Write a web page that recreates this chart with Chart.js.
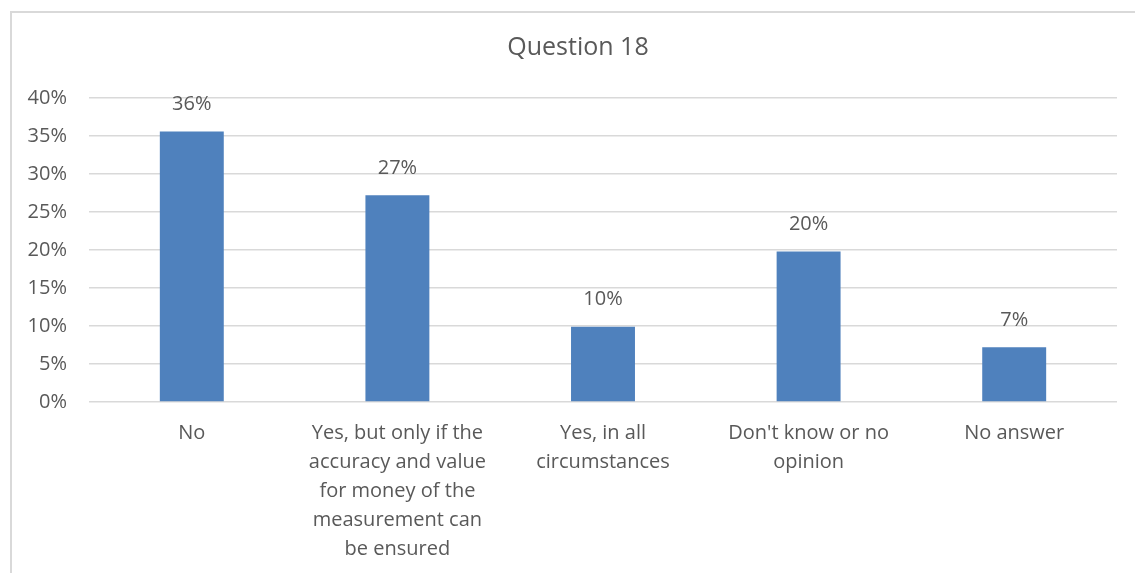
<!DOCTYPE html>
<html>
<head>
<meta charset="utf-8">
<script src="https://cdn.jsdelivr.net/npm/chart.js@4"></script>
<style>
html,body{margin:0;padding:0;background:#fff;}
#wrap{width:1135px;height:573px;position:relative;}
</style>
</head>
<body>
<div id="wrap"><canvas id="c" width="1135" height="573"></canvas></div>
<script>
const categories = [
  ["No"],
  ["Yes, but only if the", "accuracy and value", "for money of the", "measurement can", "be ensured"],
  ["Yes, in all", "circumstances"],
  ["Don't know or no", "opinion"],
  ["No answer"]
];
const values = [0.356, 0.272, 0.099, 0.198, 0.072];
const valueLabels = ["36%", "27%", "10%", "20%", "7%"];
const chartTitle = "Question 18";

const textColor = "#595959";
const fontFamily = "'Open Sans', 'DejaVu Sans', sans-serif";

const frame = {
  id: "frame",
  beforeDraw(chart) {
    const ctx = chart.ctx;
    ctx.save();
    ctx.fillStyle = "#fff";
    ctx.fillRect(0, 0, chart.width, chart.height);
    ctx.strokeStyle = "#d9d9d9";
    ctx.lineWidth = 2;
    ctx.strokeRect(11, 12, 1300, 1000);
    ctx.fillStyle = textColor;
    ctx.font = "25px " + fontFamily;
    ctx.textAlign = "center";
    ctx.textBaseline = "middle";
    ctx.fillText(chartTitle, 578, 48);
    ctx.restore();
  }
};

const barLabels = {
  id: "barLabels",
  afterDatasetsDraw(chart) {
    const ctx = chart.ctx;
    const meta = chart.getDatasetMeta(0);
    ctx.save();
    ctx.fillStyle = textColor;
    ctx.font = "20px " + fontFamily;
    ctx.textAlign = "center";
    ctx.textBaseline = "middle";
    meta.data.forEach((bar, i) => {
      ctx.fillText(valueLabels[i], bar.x, bar.y - 27);
    });
    ctx.restore();
  }
};

new Chart(document.getElementById("c"), {
  type: "bar",
  data: {
    labels: categories,
    datasets: [{
      data: values,
      backgroundColor: "#4f81bd",
      borderWidth: 0,
      barPercentage: 0.311,
      categoryPercentage: 1.0
    }]
  },
  options: {
    responsive: false,
    animation: false,
    devicePixelRatio: 1,
    layout: { padding: { left: 0, right: 18, top: 98, bottom: 0 } },
    plugins: {
      legend: { display: false },
      tooltip: { enabled: false },
      title: { display: false }
    },
    scales: {
      y: {
        min: 0,
        max: 0.4,
        ticks: {
          stepSize: 0.05,
          color: textColor,
          font: { family: fontFamily, size: 20 },
          padding: 22,
          callback: v => Math.round(v * 100) + "%"
        },
        grid: { color: "#d9d9d9", lineWidth: 1.5, drawTicks: false },
        border: { display: false },
        afterFit(scale) { scale.width = 89; }
      },
      x: {
        ticks: {
          color: textColor,
          font: { family: fontFamily, size: 20, lineHeight: 1.45 },
          padding: 17,
          maxRotation: 0,
          autoSkip: false
        },
        grid: { display: false, drawTicks: false },
        border: { display: false },
        afterFit(scale) { scale.height = 171; }
      }
    }
  },
  plugins: [frame, barLabels]
});
</script>
</body>
</html>
